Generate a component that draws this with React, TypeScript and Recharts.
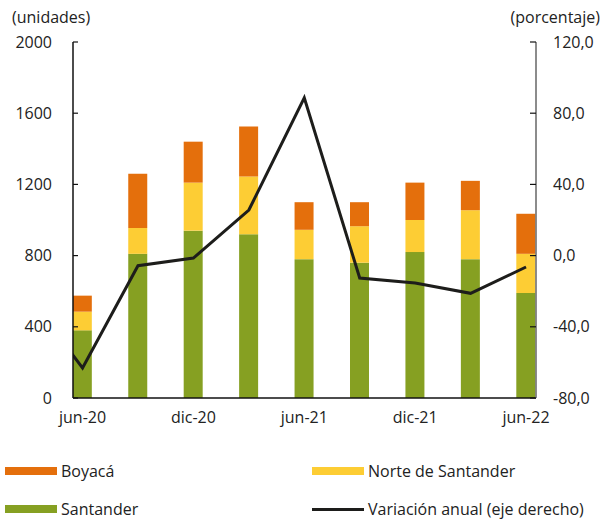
import React from 'react';
import { ComposedChart, Bar, Line, XAxis, YAxis } from 'recharts';

// Quarterly data; mar-20 only carries the line value (clipped at the left edge)
const periods = ['mar-20', 'jun-20', 'sep-20', 'dic-20', 'mar-21', 'jun-21', 'sep-21', 'dic-21', 'mar-22', 'jun-22'];
const santander = [null, 380, 810, 940, 920, 780, 760, 820, 780, 590];
const norteSantander = [null, 105, 145, 270, 325, 165, 205, 180, 275, 220];
const boyaca = [null, 90, 305, 230, 280, 155, 135, 210, 165, 225];
const variacion = [-22, -63.1, -5.7, -1.4, 25.6, 88.7, -12.6, -15.4, -21.2, -6.4];

const xTicks = [0, 2, 4, 6, 8];
const leftTicks = [0, 400, 800, 1200, 1600, 2000];
const rightTicks = [-80, -40, 0, 40, 80, 120];

const chartData = periods.map((p, i) => ({
  pos: i - 1,
  period: p,
  santander: santander[i],
  norte: norteSantander[i],
  boyaca: boyaca[i],
  variacion: variacion[i],
}));

const FONT = '"Open Sans", sans-serif';
const TEXT = '#222';

const LeftTick = (props: any) => {
  const { x, y, payload } = props;
  return (
    <g>
      <line x1={x + 21} x2={x + 26} y1={y} y2={y} stroke="#111" strokeWidth={1.2} />
      <text x={x} y={y} dy="0.35em" textAnchor="end" fill={TEXT} fontSize={16} fontFamily={FONT}>
        {payload.value}
      </text>
    </g>
  );
};

const RightTick = (props: any) => {
  const { x, y, payload } = props;
  return (
    <g>
      <line x1={x - 17} x2={x - 23} y1={y} y2={y} stroke="#111" strokeWidth={1.2} />
      <text x={x} y={y} dy="0.35em" textAnchor="start" fill={TEXT} fontSize={16} fontFamily={FONT}>
        {Number(payload.value).toFixed(1).replace('.', ',')}
      </text>
    </g>
  );
};

const LegendItem = ({ color, label, line }: { color: string; label: string; line?: boolean }) => (
  <div style={{ display: 'flex', alignItems: 'center' }}>
    <div style={{ width: 52, height: line ? 3 : 8, background: color, marginRight: 4 }} />
    <span>{label}</span>
  </div>
);

const App: React.FC = () => {
  return (
    <div style={{ position: 'absolute', left: 0, top: 0, width: 608, height: 521, fontFamily: FONT, color: TEXT, background: '#fff' }}>
      <div style={{ position: 'absolute', left: 12, top: 6, fontSize: 16 }}>(unidades)</div>
      <div style={{ position: 'absolute', right: 8, top: 6, fontSize: 16 }}>(porcentaje)</div>
      <ComposedChart
        width={608}
        height={440}
        data={chartData}
        margin={{ top: 42, right: 12, bottom: 12, left: 13 }}
      >
        <XAxis
          dataKey="pos"
          type="number"
          domain={[-0.172, 8.18]}
          allowDataOverflow
          ticks={xTicks}
          tickFormatter={(v: number) => periods[v + 1]}
          height={30}
          tickLine={false}
          tickSize={0}
          tickMargin={14}
          axisLine={{ stroke: '#111', strokeWidth: 1.5 }}
          tick={{ fill: TEXT, fontSize: 16, fontFamily: FONT }}
        />
        <YAxis
          yAxisId="left"
          domain={[0, 2000]}
          ticks={leftTicks}
          width={60}
          tickLine={false}
          tickSize={0}
          tickMargin={21}
          axisLine={{ stroke: '#111', strokeWidth: 1.5 }}
          tick={<LeftTick />}
        />
        <YAxis
          yAxisId="right"
          orientation="right"
          domain={[-80, 120]}
          ticks={rightTicks}
          width={60}
          tickLine={false}
          tickSize={0}
          tickMargin={17}
          axisLine={{ stroke: '#666', strokeWidth: 1.5 }}
          tick={<RightTick />}
        />
        <Bar yAxisId="left" dataKey="santander" stackId="a" fill="#86A022" barSize={19} isAnimationActive={false} />
        <Bar yAxisId="left" dataKey="norte" stackId="a" fill="#FDCD34" barSize={19} isAnimationActive={false} />
        <Bar yAxisId="left" dataKey="boyaca" stackId="a" fill="#E46F0C" barSize={19} isAnimationActive={false} />
        <Line
          yAxisId="right"
          dataKey="variacion"
          stroke="#1d1d1b"
          strokeWidth={3}
          dot={false}
          isAnimationActive={false}
        />
      </ComposedChart>
      <div
        style={{
          position: 'absolute',
          left: 5,
          top: 459,
          width: 600,
          display: 'grid',
          gridTemplateColumns: '307px 293px',
          rowGap: 14,
          fontSize: 16,
          lineHeight: '24px',
        }}
      >
        <LegendItem color="#E46F0C" label="Boyacá" />
        <LegendItem color="#FDCD34" label="Norte de Santander" />
        <LegendItem color="#86A022" label="Santander" />
        <LegendItem color="#1d1d1b" label="Variación anual (eje derecho)" line />
      </div>
    </div>
  );
};

export default App;
